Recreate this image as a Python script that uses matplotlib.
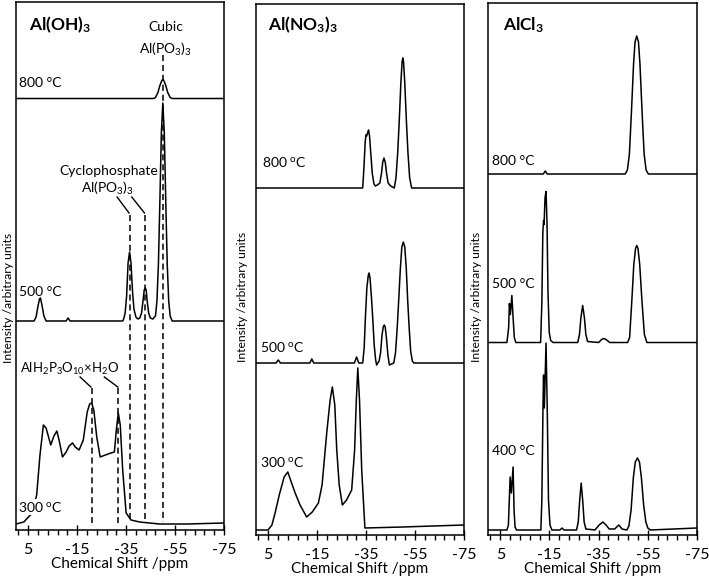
import matplotlib
matplotlib.use('Agg')
import matplotlib.pyplot as plt
from matplotlib.ticker import FixedLocator

plt.rcParams['font.family'] = ['Lato', 'DejaVu Sans']
plt.rcParams['mathtext.fontset'] = 'custom'
plt.rcParams['mathtext.rm'] = 'Lato'
plt.rcParams['mathtext.bf'] = 'Lato:bold'
plt.rcParams['mathtext.it'] = 'Lato:italic'
plt.rcParams['mathtext.default'] = 'regular'

# ---- spectra (ppm, intensity above own baseline) ----
# Al(OH)3
oh800_ppm = [10, -30, -46.2, -47.0, -48.0, -48.8, -49.6, -50.0, -50.4, -51.2, -52.0, -53.0, -53.8, -75]
oh800_int = [0, 0, 0, 1, 6, 13, 18, 19, 18, 13, 6, 1, 0, 0]

oh500_ppm = [10, 2.6, 1.8, 1.0, 0.4, 0.0, -0.6, -1.4, -2.3, -10.5, -11.3, -12.1,
             -33.6, -34.0, -34.6, -35.2, -35.8, -36.4, -37.0, -37.6, -38.2, -39.0, -39.8,
             -40.6, -41.3, -41.9, -42.4, -42.8, -43.2, -43.6, -44.2, -44.9, -45.9,
             -47.0, -47.6, -48.2, -48.8, -49.4, -50.0, -50.6, -51.2, -51.8, -52.4, -53.0, -53.8, -75]
oh500_int = [0, 0, 4, 15, 22, 23, 16, 5, 0, 0, 3, 0,
             0, 2, 8, 25, 58, 69, 58, 30, 12, 4, 2,
             3, 8, 20, 31, 33, 31, 20, 8, 3, 2,
             5, 20, 57, 120, 188, 218, 188, 120, 57, 20, 5, 0, 0]

oh300_ppm = [10.0, 6.8, 3.4, 1.55, 0.2, -1.2, -2.3, -4.2, -5.5, -6.7, -7.6, -9.0, -10.5,
             -11.7, -13.1, -14.2, -15.8, -17.5, -19.1, -20.1, -20.9, -21.8, -23.0, -24.4,
             -26.5, -28.8, -30.2, -31.0, -31.8, -32.6, -33.6, -35.0, -37.0, -40.5, -48.7,
             -60.0, -75.0]
oh300_int = [1, 3, 12, 30, 70, 100, 97, 80, 89, 94, 85, 68, 73,
             79, 82, 78, 75, 85, 113, 121, 122, 115, 88, 68,
             70, 72, 73, 95, 112, 100, 55, 12, 5, 3, 1,
             1, 2]

# Al(NO3)3
no800_ppm = [10, -33.6, -34.1, -34.6, -34.9, -35.2, -35.6, -36.0, -36.4, -36.9, -37.5, -38.2, -38.8, -39.6,
             -40.6, -41.3, -41.8, -42.3, -42.8, -43.4, -44.0, -45.0,
             -46.5, -47.2, -47.9, -48.5, -49.2, -49.7, -50.0, -50.3, -50.8, -51.5, -52.1, -52.8, -53.6, -75]
no800_int = [0, 0, 20, 45, 53, 52, 55, 58, 52, 35, 15, 4, 2, 3,
             5, 15, 26, 30, 26, 14, 5, 2,
             0, 10, 35, 65, 105, 126, 130, 126, 105, 65, 35, 10, 0, 0]

no500_ppm = [10, 1.8, 0.9, 0.0, -12.0, -12.8, -13.6, -30.2, -31.1, -32.0,
             -33.6, -34.2, -34.7, -35.3, -35.9, -36.2, -36.6, -37.2, -37.7, -38.3, -38.9, -39.3,
             -40.3, -40.9, -41.5, -42.0, -42.4, -42.8, -43.3, -43.9, -44.5,
             -46.3, -47.0, -47.7, -48.3, -49.0, -49.6, -50.2, -50.8, -51.4, -52.0, -52.6, -53.2, -53.9, -54.5, -75]
no500_int = [0, 0, 3, 0, 0, 4, 0, 0, 6, 0,
             0, 15, 45, 75, 88, 90, 85, 65, 45, 18, 3, -2,
             2, 10, 28, 36, 38, 36, 25, 8, -2,
             0, 10, 35, 62, 95, 116, 121, 116, 95, 62, 35, 12, 2, 0, 0]

no300_ppm = [10, 5.1, 3.5, 2.2, 0.5, -1.5, -3.0, -4.4, -6.0, -8.0, -10.7, -13.0, -15.5,
             -17.0, -18.9, -20.3, -21.2, -22.2, -23.0, -24.0, -25.3, -27.0, -29.1,
             -30.3, -31.0, -31.6, -32.3, -33.2, -34.5, -50, -75]
no300_int = [0, 0, 5, 17, 35, 53, 58, 48, 37, 25, 13, 18, 27,
             45, 97, 130, 143, 125, 80, 45, 25, 30, 40,
             80, 130, 162, 130, 60, 2, 3, 5]

# AlCl3
cl800_ppm = [10, -12.5, -13.3, -14.1, -45.8, -46.7, -47.5, -48.3, -49.2, -49.8, -50.5,
             -51.2, -51.8, -52.7, -53.5, -54.3, -55.2, -75]
cl800_int = [0, 0, 3, 0, 0, 4, 20, 60, 110, 132, 138,
             132, 110, 60, 20, 4, 0, 0]

cl500_ppm = [10, 2.3, 1.6, 1.3, 0.9, 0.3, -0.2, -0.7, -1.3,
             -11.4, -11.9, -12.3, -12.6, -12.8, -13.2, -13.6, -14.0, -14.4, -14.9, -15.5, -16.5,
             -26.5, -27.2, -27.8, -28.5, -29.2, -29.8, -30.5,
             -35.0, -36.2, -37.1, -38.0, -39.5,
             -46.8, -47.6, -48.5, -49.3, -50.0, -50.5, -51.0, -51.7, -52.6, -53.6, -54.6, -75]
cl500_int = [0, 0, 15, 39, 28, 47, 25, 5, 0,
             0, 40, 110, 122, 118, 145, 151, 120, 50, 10, 2, 0,
             0, 8, 25, 37, 25, 8, 1,
             0, 3, 4, 3, 0,
             0, 5, 42, 78, 94, 97, 94, 78, 42, 8, 0, 0]

cl400_ppm = [10, 2.3, 1.7, 1.0, 0.5, -0.2, -0.6, -1.0, -1.6,
             -11.5, -11.9, -12.4, -12.6, -12.9, -13.6, -14.1, -14.6, -15.2, -16.0,
             -19.3, -20.1, -20.9,
             -26.0, -26.7, -27.3, -27.9, -28.5, -29.1, -29.8,
             -33.5, -35.2, -36.7, -38.0, -39.3, -41.5, -43.2, -44.5,
             -46.5, -47.3, -48.2, -49.1, -49.9, -50.8, -51.6, -52.4, -53.3, -54.2, -55.0, -56.0, -75]
cl400_int = [0, 0, 5, 53, 37, 63, 20, 3, 0,
             0, 30, 130, 155, 122, 187, 120, 30, 5, 0,
             0, 2, 0,
             0, 8, 30, 47, 30, 8, 1,
             0, 5, 8, 5, 1, 1, 5, 1,
             0, 4, 20, 52, 68, 72, 68, 52, 25, 8, 2, 0, 2]

major_ticks = [5, -15, -35, -55, -75]
minor_ticks = list(range(-71, 10, 4))

fig = plt.figure(figsize=(7.09, 5.85), dpi=100)
ax1 = fig.add_axes([16 / 709, 55 / 585, 208 / 709, 528 / 585])
ax2 = fig.add_axes([256 / 709, 50 / 585, 208 / 709, 531 / 585])
ax3 = fig.add_axes([488 / 709, 50 / 585, 209 / 709, 532 / 585])

for ax, top in [(ax1, 528), (ax2, 531), (ax3, 532)]:
    ax.set_xlim(10, -75)
    ax.set_ylim(0, top)
    ax.set_yticks([])
    ax.xaxis.set_major_locator(FixedLocator(major_ticks))
    ax.xaxis.set_minor_locator(FixedLocator(minor_ticks))
    ax.set_xticklabels([str(t) for t in major_ticks])
    ax.tick_params(axis='x', which='major', direction='inout', length=7, width=1,
                   labelsize=11.5, pad=6)
    ax.tick_params(axis='x', which='minor', direction='out', length=3.5, width=1)
    for s in ax.spines.values():
        s.set_linewidth(1.1)
    ax.set_xlabel('Chemical Shift /ppm', fontsize=11, labelpad=0)

lw = 1.1
# Al(OH)3 panel
ax1.plot(oh800_ppm, [v + 431.5 for v in oh800_int], color='black', lw=lw)
ax1.plot(oh500_ppm, [v + 209 for v in oh500_int], color='black', lw=lw)
ax1.plot(oh300_ppm, [v + 5 for v in oh300_int], color='black', lw=lw)

dash = dict(color='black', lw=1.1, linestyle=(0, (4, 2.5)))
ax1.plot([-50, -50], [475, 8], **dash)
for p in [-36.4, -42.8]:
    ax1.plot([p, p], [315, 8], **dash)
for p in [-20.9, -31.8]:
    ax1.plot([p, p], [142, 7], **dash)
ax1.plot([-31.3, -36.2], [333, 317], color='black', lw=1)
ax1.plot([-37.3, -42.5], [333, 317], color='black', lw=1)
ax1.plot([-16.2, -20.6], [153, 143], color='black', lw=1)
ax1.plot([-26.1, -31.6], [153, 143], color='black', lw=1)

fs = 10
ax1.text(0.0625, 0.956, r'Al(OH)$_\mathbf{3}$', transform=ax1.transAxes, fontsize=12.5,
         fontweight='bold', ha='left', va='center')
ax1.text(0.72, 0.953, 'Cubic', transform=ax1.transAxes, fontsize=fs, ha='center', va='center')
ax1.text(0.72, 0.910, r'Al(PO$_3$)$_3$', transform=ax1.transAxes, fontsize=fs,
         ha='center', va='center')
ax1.text(0.447, 0.680, 'Cyclophosphate', transform=ax1.transAxes, fontsize=fs,
         ha='center', va='center')
ax1.text(0.4375, 0.646, r'Al(PO$_3$)$_3$', transform=ax1.transAxes, fontsize=fs,
         ha='center', va='center')
ax1.text(0.26, 0.305, r'AlH$_2$P$_3$O$_{10}$×H$_2$O', transform=ax1.transAxes, fontsize=9.5,
         ha='center', va='center')
ax1.text(0.014, 0.847, '800 °C', transform=ax1.transAxes, fontsize=fs, va='center')
ax1.text(0.014, 0.451, '500 °C', transform=ax1.transAxes, fontsize=fs, va='center')
ax1.text(0.011, 0.0436, r'300 $^\mathrm{o}$C', transform=ax1.transAxes, fontsize=fs,
         va='center', zorder=5,
         bbox=dict(facecolor='white', edgecolor='none', pad=0.5))

# Al(NO3)3 panel
ax2.plot(no800_ppm, [v + 347 for v in no800_int], color='black', lw=lw)
ax2.plot(no500_ppm, [v + 172 for v in no500_int], color='black', lw=lw)
ax2.plot(no300_ppm, [v + 5 for v in no300_int], color='black', lw=lw)
ax2.text(0.058, 0.960, r'Al(NO$_\mathbf{3}$)$_\mathbf{3}$', transform=ax2.transAxes,
         fontsize=12.5, fontweight='bold', ha='left', va='center')
ax2.text(0.029, 0.702, r'800 $^\mathrm{o}$C', transform=ax2.transAxes, fontsize=fs, va='center')
ax2.text(0.019, 0.354, r'500 $^\mathrm{o}$C', transform=ax2.transAxes, fontsize=fs, va='center')
ax2.text(0.019, 0.137, r'300 $^\mathrm{o}$C', transform=ax2.transAxes, fontsize=fs, va='center')

# AlCl3 panel
ax3.plot(cl800_ppm, [v + 361 for v in cl800_int], color='black', lw=lw)
ax3.plot(cl500_ppm, [v + 192.5 for v in cl500_int], color='black', lw=lw)
ax3.plot(cl400_ppm, [v + 5 for v in cl400_int], color='black', lw=lw)
ax3.text(0.072, 0.959, r'AlCl$_\mathbf{3}$', transform=ax3.transAxes, fontsize=12.5,
         fontweight='bold', ha='left', va='center')
ax3.text(0.019, 0.703, '800 °C', transform=ax3.transAxes, fontsize=fs, va='center')
ax3.text(0.019, 0.472, '500 °C', transform=ax3.transAxes, fontsize=fs, va='center')
ax3.text(0.019, 0.158, '400 °C', transform=ax3.transAxes, fontsize=fs, va='center')

for ax, xoff, ymid in [(ax1, -0.038, 0.44), (ax2, -0.0625, 0.448), (ax3, -0.053, 0.447)]:
    ax.text(xoff, ymid, 'Intensity /arbitrary units', transform=ax.transAxes, rotation=90,
            fontsize=8.7, ha='center', va='center')

fig.savefig('out.png', dpi=100)
